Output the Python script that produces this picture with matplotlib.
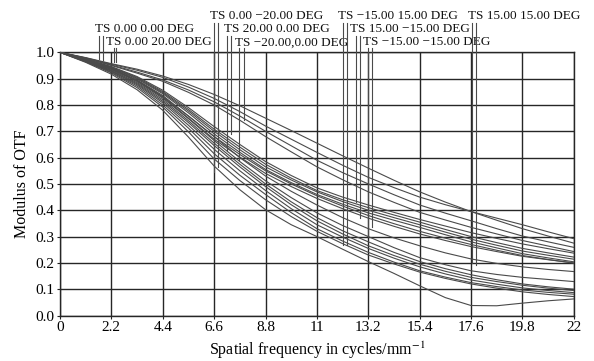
import numpy as np
import matplotlib
matplotlib.use("Agg")
import matplotlib.pyplot as plt

plt.rcParams['font.family'] = ['Liberation Serif', 'DejaVu Serif']
plt.rcParams['mathtext.fontset'] = 'stix'

# spatial frequency sample points (cycles/mm), every 1.1
freq = [0, 1.1, 2.2, 3.3, 4.4, 5.5, 6.6, 7.7, 8.8, 9.9, 11,
        12.1, 13.2, 14.3, 15.4, 16.5, 17.6, 18.7, 19.8, 20.9, 22]
tick_pos = [0, 2.2, 4.4, 6.6, 8.8, 11, 13.2, 15.4, 17.6, 19.8, 22]
tick_lbl = ['0', '2.2', '4.4', '6.6', '8.8', '11', '13.2', '15.4', '17.6', '19.8', '22']

# MTF curves (T and S of the nine fields)
top_curves = [
    [1.0, 0.980, 0.957, 0.936, 0.910, 0.878, 0.840, 0.797, 0.750, 0.703, 0.655,
     0.607, 0.560, 0.514, 0.470, 0.431, 0.395, 0.362, 0.330, 0.302, 0.275],
    [1.0, 0.979, 0.955, 0.932, 0.905, 0.868, 0.825, 0.775, 0.720, 0.670, 0.620,
     0.571, 0.525, 0.486, 0.450, 0.421, 0.395, 0.370, 0.345, 0.318, 0.292],
    [1.0, 0.978, 0.952, 0.925, 0.895, 0.857, 0.812, 0.758, 0.700, 0.645, 0.590,
     0.543, 0.500, 0.459, 0.420, 0.389, 0.360, 0.330, 0.302, 0.280, 0.259],
    [1.0, 0.977, 0.950, 0.921, 0.890, 0.848, 0.800, 0.742, 0.680, 0.622, 0.565,
     0.516, 0.470, 0.430, 0.392, 0.363, 0.335, 0.310, 0.285, 0.264, 0.243],
]
mid_curves = [
    [1.0, 0.975, 0.946, 0.908, 0.856, 0.790, 0.718, 0.650, 0.585, 0.532, 0.485,
     0.450, 0.420, 0.392, 0.365, 0.340, 0.315, 0.293, 0.272, 0.254, 0.237],
    [1.0, 0.974, 0.944, 0.905, 0.851, 0.783, 0.708, 0.640, 0.575, 0.522, 0.475,
     0.440, 0.410, 0.382, 0.355, 0.327, 0.300, 0.277, 0.255, 0.238, 0.222],
    [1.0, 0.973, 0.942, 0.902, 0.847, 0.777, 0.700, 0.630, 0.565, 0.515, 0.470,
     0.433, 0.400, 0.372, 0.345, 0.317, 0.290, 0.267, 0.245, 0.229, 0.214],
    [1.0, 0.972, 0.941, 0.899, 0.843, 0.770, 0.690, 0.620, 0.555, 0.505, 0.460,
     0.423, 0.390, 0.362, 0.335, 0.307, 0.280, 0.257, 0.235, 0.219, 0.204],
    [1.0, 0.971, 0.939, 0.895, 0.836, 0.758, 0.680, 0.612, 0.550, 0.500, 0.455,
     0.416, 0.380, 0.349, 0.320, 0.294, 0.270, 0.248, 0.228, 0.213, 0.199],
    [1.0, 0.970, 0.937, 0.892, 0.830, 0.750, 0.670, 0.602, 0.540, 0.490, 0.445,
     0.406, 0.370, 0.339, 0.310, 0.285, 0.262, 0.243, 0.225, 0.212, 0.200],
]
low_curves = [
    [1.0, 0.970, 0.937, 0.893, 0.832, 0.758, 0.680, 0.600, 0.530, 0.472, 0.420,
     0.372, 0.330, 0.295, 0.265, 0.238, 0.215, 0.198, 0.185, 0.175, 0.167],
    [1.0, 0.969, 0.935, 0.889, 0.826, 0.748, 0.665, 0.585, 0.512, 0.448, 0.390,
     0.342, 0.300, 0.258, 0.220, 0.193, 0.170, 0.156, 0.145, 0.137, 0.129],
    [1.0, 0.968, 0.932, 0.885, 0.820, 0.740, 0.655, 0.575, 0.500, 0.432, 0.372,
     0.322, 0.280, 0.240, 0.205, 0.178, 0.155, 0.136, 0.120, 0.109, 0.100],
    [1.0, 0.967, 0.930, 0.881, 0.814, 0.733, 0.646, 0.565, 0.490, 0.421, 0.360,
     0.310, 0.265, 0.228, 0.195, 0.168, 0.145, 0.129, 0.115, 0.104, 0.095],
    [1.0, 0.966, 0.928, 0.877, 0.808, 0.723, 0.632, 0.550, 0.475, 0.406, 0.345,
     0.298, 0.255, 0.218, 0.185, 0.158, 0.135, 0.119, 0.105, 0.095, 0.087],
    [1.0, 0.965, 0.925, 0.872, 0.800, 0.712, 0.615, 0.533, 0.460, 0.391, 0.330,
     0.283, 0.240, 0.203, 0.170, 0.146, 0.125, 0.110, 0.097, 0.088, 0.081],
    [1.0, 0.964, 0.922, 0.866, 0.792, 0.698, 0.595, 0.513, 0.440, 0.376, 0.320,
     0.273, 0.230, 0.196, 0.165, 0.141, 0.120, 0.104, 0.090, 0.080, 0.072],
    [1.0, 0.962, 0.917, 0.858, 0.780, 0.678, 0.568, 0.478, 0.402, 0.345, 0.300,
     0.252, 0.205, 0.160, 0.113, 0.068, 0.038, 0.037, 0.047, 0.056, 0.063],
]

# field labels: text, row, left x of text, x of the two marker lines, where the lines end
labels = ['TS 0.00 0.00 DEG', 'TS 0.00 20.00 DEG', 'TS 0.00 \u221220.00 DEG',
          'TS 20.00 0.00 DEG', 'TS \u221220.00,0.00 DEG', 'TS \u221215.00 15.00 DEG',
          'TS 15.00 \u221215.00 DEG', 'TS \u221215.00 \u221215.00 DEG', 'TS 15.00 15.00 DEG']
label_row = [2, 3, 1, 2, 3, 1, 2, 3, 1]
label_x = [1.50, 1.97, 6.42, 7.02, 7.49, 11.90, 12.41, 12.97, 17.47]
mark_x = [(1.66, 1.83), (2.31, 2.41), (6.61, 6.78), (7.17, 7.34), (7.68, 7.89),
          (12.10, 12.27), (12.66, 12.86), (13.20, 13.38), (17.62, 17.80)]
mark_y = [(0.975, 0.972), (0.965, 0.962), (0.547, 0.566), (0.625, 0.690), (0.590, 0.743),
          (0.268, 0.268), (0.432, 0.369), (0.300, 0.337), (0.200, 0.192)]

row_text_y = {1: 1.138, 2: 1.090, 3: 1.038}
row_line_top = {1: 1.112, 2: 1.062, 3: 1.018}

fig = plt.figure(figsize=(5.94, 3.61), dpi=100)
ax = fig.add_axes([0.101, 0.126, 0.865, 0.729])

curve_color = '#4a4a4a'
for c in top_curves + mid_curves + low_curves:
    ax.plot(freq, c, color=curve_color, lw=0.8, zorder=3)

for i in range(len(labels)):
    r = label_row[i]
    ax.text(label_x[i], row_text_y[r], labels[i], fontsize=9.5, va='center', ha='left',
            color='#111111', clip_on=False)
    for mx, my in zip(mark_x[i], mark_y[i]):
        ax.plot([mx, mx], [row_line_top[r], my], color=curve_color, lw=0.8,
                clip_on=False, zorder=3)

ax.set_xlim(0, 22)
ax.set_ylim(0, 1.0)
ax.set_xticks(tick_pos)
ax.set_xticklabels(tick_lbl)
ax.set_yticks(np.arange(0, 1.01, 0.1))
ax.set_yticklabels(['%.1f' % v for v in np.arange(0, 1.01, 0.1)])
ax.tick_params(labelsize=11, length=2, pad=2, color='#222222')
ax.grid(True, color='#262626', lw=1.0)
ax.set_axisbelow(True)
for s in ax.spines.values():
    s.set_color('#262626')
    s.set_linewidth(1.0)

ax.set_xlabel('Spatial frequency in cycles/mm$^{-1}$', fontsize=11.5, labelpad=4)
ax.set_ylabel('Modulus of OTF', fontsize=11.5, labelpad=4)

fig.savefig('out.png', dpi=100)
